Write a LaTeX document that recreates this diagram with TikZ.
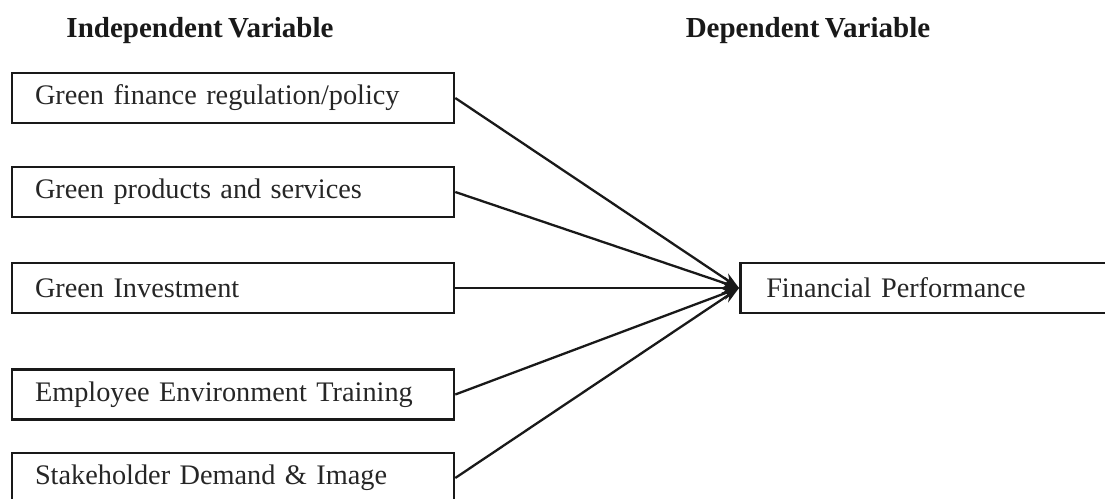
\documentclass[tikz,border=0pt]{standalone}
\usepackage{fontspec}
\setmainfont{Liberation Serif}[WordSpace=0.75]
\usetikzlibrary{arrows.meta}
\begin{document}
\begin{tikzpicture}[x=1pt,y=1pt,
  varbox/.style={draw=black!90, line width=2.5pt, minimum height=50pt,
    minimum width=442pt, text width=396pt, inner xsep=23pt, align=left,
    font=\fontsize{28.3}{32}\selectfont, text=black!85},
  outbox/.style={draw=black!90, line width=2.5pt, minimum height=50pt,
    minimum width=400pt, text width=350pt, inner xsep=26pt, align=left,
    font=\fontsize{28.3}{32}\selectfont, text=black!85},
  header/.style={font=\fontsize{29}{32}\selectfont\bfseries, text=black!90},
  link/.style={line width=2.3pt, draw=black!90,
    -{Stealth[length=17pt,width=12pt]}}]
  \useasboundingbox (0,0) rectangle (1105,498);
  \clip (0,0) rectangle (1105,498);
  % column headings
  \node[header] (hin) at (200,467) {Independent Variable};
  \node[header] (hdep) at (808,467) {Dependent Variable};
  % independent variables
  \node[varbox] (b1) at (233,400) {Green finance regulation/policy};
  \node[varbox] (b2) at (233,306) {Green products and services};
  \node[varbox] (b3) at (233,210) {Green Investment};
  \node[varbox] (b4) at (233,103.5) {Employee Environment Training};
  \node[varbox] (b5) at (233,20) {Stakeholder Demand \& Image};
  % dependent variable
  \node[outbox, anchor=west] (fp) at (739,210) {Financial Performance};
  % relationships
  \foreach \s in {b1,b2,b3,b4,b5}
    \draw[link] (\s.east) -- (fp.west);
\end{tikzpicture}
\end{document}
